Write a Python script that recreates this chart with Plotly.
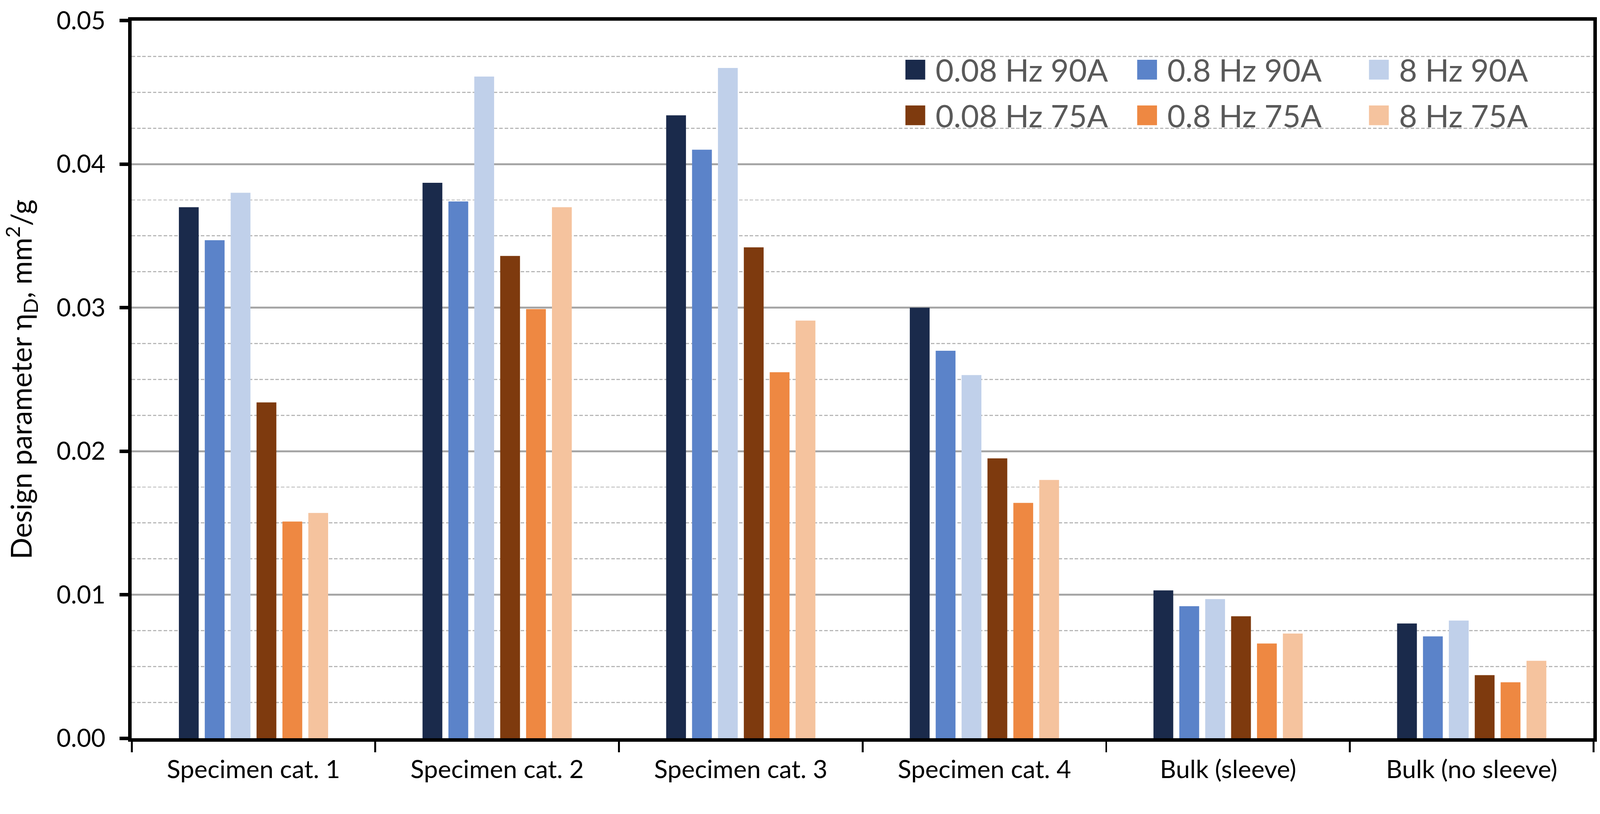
import plotly.graph_objects as go

categories = ["Specimen cat. 1", "Specimen cat. 2", "Specimen cat. 3",
              "Specimen cat. 4", "Bulk (sleeve)", "Bulk (no sleeve)"]

series_names = ["0.08 Hz 90A", "0.8 Hz 90A", "8 Hz 90A",
                "0.08 Hz 75A", "0.8 Hz 75A", "8 Hz 75A"]

hz008_90a = [0.0370, 0.0387, 0.0434, 0.0300, 0.0103, 0.0080]
hz08_90a = [0.0347, 0.0374, 0.0410, 0.0270, 0.0092, 0.0071]
hz8_90a = [0.0380, 0.0461, 0.0467, 0.0253, 0.0097, 0.0082]
hz008_75a = [0.0234, 0.0336, 0.0342, 0.0195, 0.0085, 0.0044]
hz08_75a = [0.0151, 0.0299, 0.0255, 0.0164, 0.0066, 0.0039]
hz8_75a = [0.0157, 0.0370, 0.0291, 0.0180, 0.0073, 0.0054]

series_values = [hz008_90a, hz08_90a, hz8_90a, hz008_75a, hz08_75a, hz8_75a]
colors = ["#1a2a4b", "#5b83c9", "#c0d0ea", "#7e3a0e", "#ee8842", "#f5c39e"]

W, H = 4204, 2084
L, R, T, B = 346, 17, 54, 144
PW, PH = W - L - R, H - T - B
FONT = "Lato"

fig = go.Figure()
for name, vals, col in zip(series_names, series_values, colors):
    fig.add_trace(go.Bar(x=categories, y=vals, name=name,
                         marker=dict(color=col, line=dict(width=0)),
                         showlegend=False))

# manual legend (2 rows x 3 columns) in the upper right of the plot area
leg_marker_left = [2379, 2988, 3597]
leg_row_center = [183, 303]
shapes = []
annotations = []
for i, (name, col) in enumerate(zip(series_names, colors)):
    r, c = divmod(i, 3)
    cx = (leg_marker_left[c] + 26 - L) / PW
    cy = (T + PH - leg_row_center[r]) / PH
    shapes.append(dict(type="rect", xref="paper", yref="paper",
                       xsizemode="pixel", ysizemode="pixel",
                       xanchor=cx, yanchor=cy,
                       x0=-26, x1=26, y0=-26, y1=26,
                       fillcolor=col, line=dict(width=0), layer="above"))
    tx = (leg_marker_left[c] + 77 - L) / PW
    annotations.append(dict(x=tx, y=cy, xref="paper", yref="paper",
                            text=name, showarrow=False,
                            xanchor="left", yanchor="middle",
                            font=dict(family=FONT, size=82, color="#595959")))

fig.update_layout(
    width=W, height=H,
    margin=dict(l=L, r=R, t=T, b=B, autoexpand=False),
    paper_bgcolor="white", plot_bgcolor="white",
    barmode="group", bargap=0.3625, bargroupgap=0.235,
    font=dict(family=FONT, color="black"),
    shapes=shapes, annotations=annotations,
    showlegend=False,
)

fig.update_xaxes(
    type="category", showline=True, linecolor="black", linewidth=9, mirror=True,
    ticks="outside", tickson="boundaries", ticklen=28, tickwidth=5, tickcolor="black",
    tickfont=dict(family=FONT, size=66, color="black"),
    showgrid=False, ticklabelstandoff=16,
)

fig.update_yaxes(
    range=[0, 0.05], tick0=0, dtick=0.01, tickformat=".2f",
    showline=True, linecolor="black", linewidth=9, mirror=True,
    ticks="outside", ticklen=23, tickwidth=9, tickcolor="black",
    tickfont=dict(family=FONT, size=65, color="black"),
    showgrid=True, gridcolor="#a6a6a6", gridwidth=5, zeroline=False,
    minor=dict(dtick=0.0025, tick0=0, showgrid=True, gridcolor="#b8b8b8",
               gridwidth=3, griddash="9px,5px"),
    title=dict(text="Design parameter η<sub>D</sub>, mm<sup>2</sup>/g",
               font=dict(family=FONT, size=75, color="black"), standoff=50),
    ticklabelstandoff=24,
)

fit_script = (
    "document.documentElement.style.margin='0';"
    "document.body.style.margin='0';"
    "document.body.style.overflow='hidden';"
    "var s=Math.min(window.innerWidth/%d, window.innerHeight/%d);"
    "if (s>0 && s<1) { document.body.style.zoom=s; }" % (W, H)
)

fig.write_html("out.html", post_script=fit_script,
               config={"displayModeBar": False})
